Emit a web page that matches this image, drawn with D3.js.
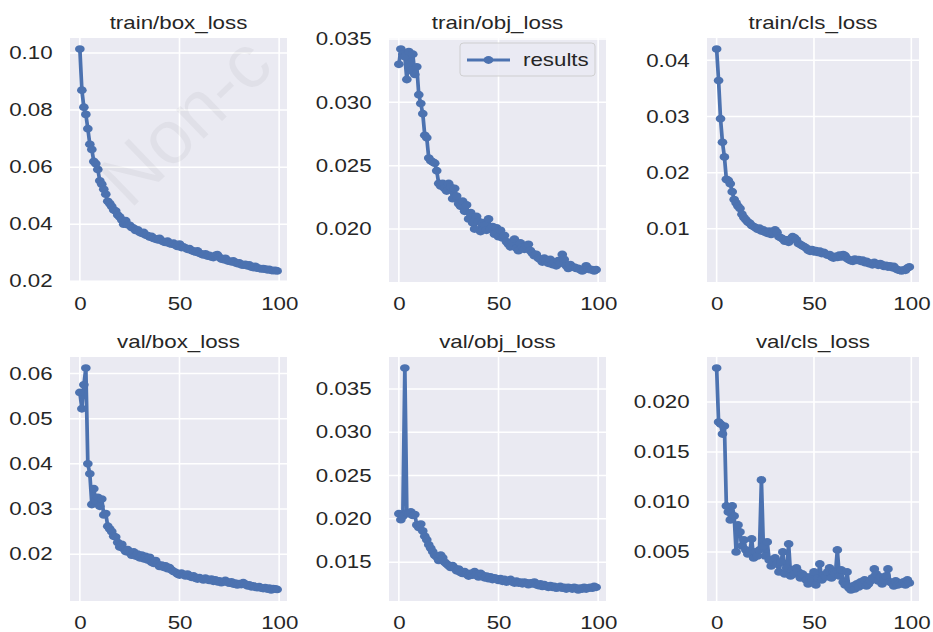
<!DOCTYPE html>
<html><head><meta charset="utf-8">
<script src="https://cdn.jsdelivr.net/npm/d3@7"></script>
<style>body{margin:0;background:#fff} svg{display:block}</style>
</head><body><svg id="c" width="933" height="632"></svg>
<script>
const epochs = d3.range(100);
const titles = ["train/box_loss","train/obj_loss","train/cls_loss","val/box_loss","val/obj_loss","val/cls_loss"];
const legendLabel = "results";
const watermark = "Non-c";
const xTicks = [0, 50, 100];

const trainBox = [0.1014,0.0870,0.0810,0.0785,0.0735,0.0680,0.0662,0.0620,0.0612,0.0592,
0.0552,0.0540,0.0522,0.0505,0.0480,0.0472,0.0462,0.0450,0.0446,0.0432,
0.0425,0.0415,0.0400,0.0412,0.0398,0.0396,0.0388,0.0386,0.0378,0.0380,
0.0372,0.0368,0.0371,0.0362,0.0360,0.0355,0.0357,0.0350,0.0348,0.0345,
0.0350,0.0342,0.0338,0.0336,0.0340,0.0332,0.0330,0.0333,0.0326,0.0322,
0.0330,0.0318,0.0320,0.0316,0.0312,0.0314,0.0308,0.0305,0.0302,0.0306,
0.0298,0.0295,0.0292,0.0296,0.0288,0.0290,0.0285,0.0283,0.0290,0.0293,
0.0284,0.0278,0.0276,0.0280,0.0272,0.0270,0.0268,0.0271,0.0265,0.0262,
0.0264,0.0258,0.0256,0.0259,0.0254,0.0257,0.0250,0.0248,0.0252,0.0246,
0.0245,0.0243,0.0244,0.0242,0.0240,0.0241,0.0238,0.0237,0.0238,0.0236];

const trainObj = [0.0330,0.0342,0.0338,0.0336,0.0318,0.0340,0.0325,0.0338,0.0322,0.0328,
0.0306,0.0299,0.0291,0.0274,0.0272,0.0256,0.0254,0.0253,0.0252,0.0246,
0.0236,0.0234,0.0236,0.0232,0.0230,0.0236,0.0233,0.0224,0.0232,0.0226,
0.0220,0.0218,0.0222,0.0214,0.0219,0.0208,0.0213,0.0205,0.0200,0.0210,
0.0206,0.0198,0.0205,0.0203,0.0199,0.0208,0.0200,0.0202,0.0196,0.0201,
0.0194,0.0199,0.0193,0.0195,0.0190,0.0188,0.0186,0.0190,0.0192,0.0185,
0.0183,0.0189,0.0186,0.0184,0.0187,0.0188,0.0183,0.0181,0.0179,0.0180,
0.0177,0.0176,0.0174,0.0177,0.0175,0.0173,0.0176,0.0172,0.0174,0.0171,
0.0175,0.0173,0.0180,0.0176,0.0171,0.0169,0.0172,0.0170,0.0170,0.0169,
0.0169,0.0168,0.0167,0.0168,0.0171,0.0169,0.0168,0.0168,0.0167,0.0168];

const trainCls = [0.0420,0.0364,0.0296,0.0254,0.0228,0.0188,0.0186,0.0180,0.0166,0.0152,
0.0146,0.0140,0.0136,0.0126,0.0120,0.0116,0.0112,0.0110,0.0106,0.0104,
0.0102,0.0099,0.0101,0.0096,0.0098,0.0094,0.0092,0.0096,0.0090,0.0093,
0.0098,0.0094,0.0086,0.0084,0.0082,0.0078,0.0080,0.0076,0.0082,0.0086,
0.0084,0.0080,0.0074,0.0072,0.0070,0.0068,0.0066,0.0062,0.0060,0.0063,
0.0059,0.0061,0.0058,0.0060,0.0056,0.0058,0.0055,0.0053,0.0054,0.0050,
0.0048,0.0051,0.0049,0.0053,0.0050,0.0054,0.0052,0.0047,0.0045,0.0043,
0.0042,0.0046,0.0044,0.0045,0.0042,0.0044,0.0040,0.0042,0.0038,0.0039,
0.0036,0.0040,0.0037,0.0035,0.0038,0.0036,0.0033,0.0035,0.0032,0.0034,
0.0031,0.0033,0.0029,0.0027,0.0026,0.0025,0.0027,0.0026,0.0030,0.0032];

const valBox = [0.0558,0.0522,0.0575,0.0612,0.0400,0.0378,0.0310,0.0345,0.0318,0.0326,
0.0306,0.0322,0.0287,0.0290,0.0262,0.0256,0.0250,0.0240,0.0238,0.0226,
0.0216,0.0222,0.0212,0.0206,0.0210,0.0203,0.0198,0.0205,0.0196,0.0200,
0.0192,0.0198,0.0190,0.0195,0.0187,0.0193,0.0182,0.0180,0.0186,0.0178,
0.0173,0.0176,0.0171,0.0174,0.0168,0.0170,0.0165,0.0162,0.0160,0.0156,
0.0154,0.0158,0.0155,0.0152,0.0156,0.0151,0.0149,0.0152,0.0147,0.0145,
0.0148,0.0146,0.0143,0.0147,0.0144,0.0142,0.0145,0.0140,0.0143,0.0139,
0.0141,0.0137,0.0139,0.0142,0.0138,0.0136,0.0139,0.0134,0.0136,0.0132,
0.0135,0.0133,0.0137,0.0134,0.0130,0.0132,0.0128,0.0130,0.0127,0.0126,
0.0128,0.0125,0.0124,0.0126,0.0123,0.0125,0.0121,0.0124,0.0123,0.0122];

const valObj = [0.0206,0.0199,0.0203,0.0374,0.0207,0.0206,0.0208,0.0204,0.0205,0.0193,
0.0190,0.0194,0.0186,0.0180,0.0176,0.0170,0.0166,0.0162,0.0158,0.0156,
0.0152,0.0158,0.0155,0.0150,0.0148,0.0146,0.0144,0.0146,0.0143,0.0140,
0.0142,0.0138,0.0137,0.0139,0.0136,0.0134,0.0137,0.0135,0.0139,0.0136,
0.0133,0.0137,0.0135,0.0132,0.0134,0.0131,0.0133,0.0130,0.0132,0.0131,
0.0129,0.0131,0.0128,0.0130,0.0127,0.0128,0.0130,0.0127,0.0126,0.0128,
0.0126,0.0127,0.0125,0.0127,0.0126,0.0124,0.0126,0.0125,0.0127,0.0124,
0.0123,0.0125,0.0122,0.0124,0.0122,0.0121,0.0123,0.0121,0.0122,0.0120,
0.0121,0.0122,0.0120,0.0121,0.0119,0.0121,0.0120,0.0119,0.0121,0.0120,
0.0118,0.0120,0.0119,0.0121,0.0119,0.0120,0.0121,0.0120,0.0122,0.0121];

const valCls = [0.0234,0.0180,0.0178,0.0168,0.0176,0.0096,0.0090,0.0082,0.0096,0.0086,
0.0050,0.0077,0.0070,0.0056,0.0062,0.0052,0.0048,0.0050,0.0063,0.0044,
0.0050,0.0046,0.0052,0.0122,0.0056,0.0046,0.0060,0.0042,0.0036,0.0040,
0.0044,0.0038,0.0030,0.0040,0.0050,0.0028,0.0034,0.0058,0.0026,0.0032,
0.0028,0.0034,0.0030,0.0024,0.0028,0.0026,0.0022,0.0018,0.0025,0.0021,
0.0030,0.0017,0.0024,0.0038,0.0022,0.0027,0.0025,0.0030,0.0034,0.0024,
0.0030,0.0028,0.0052,0.0026,0.0032,0.0020,0.0017,0.0030,0.0014,0.0012,
0.0016,0.0013,0.0018,0.0015,0.0020,0.0017,0.0022,0.0016,0.0018,0.0021,
0.0024,0.0033,0.0028,0.0021,0.0025,0.0018,0.0022,0.0026,0.0033,0.0020,
0.0019,0.0016,0.0021,0.0017,0.0019,0.0018,0.0020,0.0017,0.0022,0.0019];

const yTicksList = [
  [0.02,0.04,0.06,0.08,0.10],
  [0.020,0.025,0.030,0.035],
  [0.01,0.02,0.03,0.04],
  [0.02,0.03,0.04,0.05,0.06],
  [0.015,0.020,0.025,0.030,0.035],
  [0.005,0.010,0.015,0.020]
];
const yFormats = [".2f",".3f",".2f",".2f",".3f",".3f"];
const seriesList = [trainBox, trainObj, trainCls, valBox, valObj, valCls];

// layout (output pixels)
const S = 1.24;               // horizontal stretch of the whole figure
const colLeft = [70, 389, 707];
const colWidth = [217, 217, 212];
const rowTop = [38, 357];
const PH = 244;
const FONT = "'Liberation Sans', Arial, Helvetica, sans-serif";
const BLUE = "#4c72b0";
const BG = "#eaeaf2";
const TXT = "#262626";
const LW = 3, MR = 3.9;

const svg = d3.select("#c");
svg.append("rect").attr("width", 933).attr("height", 632).attr("fill", "#fff");
const root = svg.append("g").attr("transform", `scale(${S},1)`);

seriesList.forEach((data, i) => {
  const col = i % 3, row = Math.floor(i / 3);
  const x0 = colLeft[col] / S, w = colWidth[col] / S, y0 = rowTop[row], h = PH;
  const x = d3.scaleLinear().domain([-4.95, 103.95]).range([x0, x0 + w]);
  const ext = d3.extent(data), pad = (ext[1] - ext[0]) * 0.05;
  const y = d3.scaleLinear().domain([ext[0] - pad, ext[1] + pad]).range([y0 + h, y0]);
  const g = root.append("g");

  g.append("rect").attr("x", x0).attr("y", y0).attr("width", w).attr("height", h).attr("fill", BG);
  g.append("g").selectAll("line").data(yTicksList[i]).join("line")
    .attr("x1", x0).attr("x2", x0 + w).attr("y1", d => y(d)).attr("y2", d => y(d))
    .attr("stroke", "#fff").attr("stroke-width", 1.5);
  g.append("g").selectAll("line").data(xTicks).join("line")
    .attr("x1", d => x(d)).attr("x2", d => x(d)).attr("y1", y0).attr("y2", y0 + h)
    .attr("stroke", "#fff").attr("stroke-width", 1.3);

  const ya = g.append("g").attr("transform", `translate(${x0},0)`)
    .call(d3.axisLeft(y).tickValues(yTicksList[i]).tickFormat(d3.format(yFormats[i])).tickSize(0).tickPadding(14));
  const xa = g.append("g").attr("transform", `translate(0,${y0 + h})`)
    .call(d3.axisBottom(x).tickValues(xTicks).tickFormat(d3.format("d")).tickSize(0).tickPadding(15));
  [ya, xa].forEach(a => {
    a.select(".domain").remove();
    a.selectAll("text").attr("font-family", FONT).attr("font-size", 18).attr("fill", TXT);
  });

  const line = d3.line().x((d, k) => x(epochs[k])).y(d => y(d));
  g.append("path").datum(data).attr("d", line).attr("fill", "none")
    .attr("stroke", BLUE).attr("stroke-width", LW).attr("stroke-linejoin", "round");
  g.append("g").selectAll("circle").data(data).join("circle")
    .attr("cx", (d, k) => x(epochs[k])).attr("cy", d => y(d)).attr("r", MR).attr("fill", BLUE);

  g.append("text").attr("x", x0 + w / 2).attr("y", y0 - 9).attr("text-anchor", "middle")
    .attr("font-family", FONT).attr("font-size", 18).attr("fill", TXT).text(titles[i]);

  if (i === 1) {
    const lx = 460 / S, lw = 135 / S, ly = 43, lh = 33;
    g.append("rect").attr("x", lx).attr("y", ly).attr("width", lw).attr("height", lh).attr("rx", 3)
      .attr("fill", BG).attr("fill-opacity", 0.8).attr("stroke", "#cccccc").attr("stroke-width", 0.8);
    g.append("line").attr("x1", 467 / S).attr("x2", 510 / S).attr("y1", 60).attr("y2", 60)
      .attr("stroke", BLUE).attr("stroke-width", LW);
    g.append("circle").attr("cx", 488.5 / S).attr("cy", 60).attr("r", MR).attr("fill", BLUE);
    g.append("text").attr("x", 523 / S).attr("y", 66.5).attr("font-family", FONT).attr("font-size", 18)
      .attr("fill", TXT).text(legendLabel);
  }
});

// faint watermark
svg.append("text").attr("transform", "translate(130,210) rotate(-44)")
  .attr("font-family", FONT).attr("font-size", 76).attr("fill", "#000").attr("fill-opacity", 0.04)
  .text(watermark);
</script></body></html>
